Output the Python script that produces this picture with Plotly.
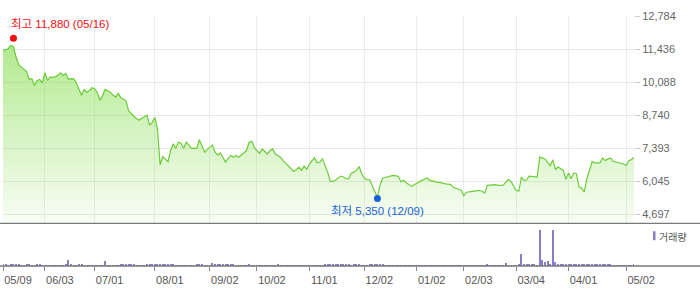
import plotly.graph_objects as go
import pandas as pd

# ---- data -----------------------------------------------------------------
holidays = ["2024-05-15", "2024-06-06", "2024-08-15", "2024-09-16", "2024-09-17",
            "2024-09-18", "2024-10-01", "2024-10-03", "2024-10-09", "2024-12-25",
            "2024-12-31", "2025-01-01", "2025-01-27", "2025-01-28", "2025-01-29",
            "2025-01-30", "2025-03-03", "2025-05-01", "2025-05-05", "2025-05-06"]
dates = [d.strftime("%Y-%m-%d") for d in pd.bdate_range("2024-05-09", "2025-05-09")
         if d.strftime("%Y-%m-%d") not in holidays]

close = [
    11380, 11400, 11450, 11580, 11540, 11100, 10800, 10700, 10630, 10530,
    10200, 10240, 9950, 10150, 10200, 10060, 10470, 10160, 10300, 10280,
    10300, 10380, 10470, 10360, 10440, 10200, 10230, 10220, 10060, 9800,
    9550, 9790, 9680, 9750, 9860, 9820, 9680, 9350, 9520, 9790,
    9720, 9680, 9560, 9480, 9630, 9455, 9400, 9320, 8910, 8800,
    8700, 8600, 8540, 8620, 8680, 8740, 8340, 8450, 8650, 8170,
    6720, 7050, 6960, 6850, 7300, 7570, 7390, 7640, 7600, 7390,
    7640, 7500, 7390, 7400, 7390, 7740, 7500, 7230, 7350, 7450,
    7530, 7230, 7120, 7200, 7030, 6830, 6980, 7100, 7030, 7100,
    7030, 7100, 7200, 7300, 7640, 7680, 7430, 7300, 7190, 7365,
    7250, 7160, 7300, 7365, 7160, 7100, 7030, 6890, 6780, 6665,
    6550, 6450, 6520, 6625, 6490, 6665, 6530, 6750, 6880, 7000,
    6800, 6830, 6960, 6700, 6420, 6040, 6040, 6100, 6180, 6260,
    6220, 6150, 6150, 6380, 6420, 6490, 6650, 6355, 6180, 6110,
    6110, 5880, 5650, 5400, 5880, 6180, 6200, 6220, 6250, 6290,
    6270, 6250, 6020, 6085, 5990, 5900, 5840, 5910, 5980, 6040,
    6085, 6130, 6180, 6085, 6050, 6020, 6000, 5990, 5950, 5940,
    5930, 5910, 5800, 5750, 5700, 5680, 5460, 5600, 5612, 5630,
    5640, 5660, 5680, 5640, 5570, 5880, 5890, 5900, 5910, 5880,
    5880, 5890, 6000, 6130, 6040, 5850, 5680, 5640, 6220, 6085,
    6100, 6260, 6240, 6230, 6220, 7030, 6990, 6960, 6820, 6690,
    6920, 6530, 6625, 6560, 6490, 6130, 6380, 6150, 6390, 6355,
    5810, 5770, 5610, 6150, 6500, 6850, 6800, 6810, 6800, 7000,
    6890, 6950, 7000, 6865, 6840, 6820, 6800, 6750, 6690, 6890,
    6930, 7030,
]

volume_k = [
    150, 120, 60, 160, 90, 70, 140, 50, 60, 130,
    120, 40, 50, 130, 110, 40, 30, 40, 30, 50,
    40, 30, 40, 60, 80, 620, 120, 40, 50, 130,
    110, 40, 30, 40, 30, 40, 30, 50, 60, 420,
    40, 30, 50, 40, 60, 110, 130, 120, 140, 120,
    110, 40, 30, 50, 40, 120, 140, 130, 150, 140,
    160, 140, 120, 130, 140, 110, 50, 40, 30, 40,
    30, 40, 30, 50, 110, 120, 100, 40, 30, 60,
    220, 110, 100, 90, 110, 100, 90, 100, 80, 50,
    40, 30, 40, 60, 180, 60, 40, 30, 40, 30,
    40, 30, 50, 40, 30, 90, 40, 30, 40, 30,
    40, 30, 50, 40, 30, 40, 30, 40, 30, 40,
    50, 30, 60, 80, 100, 90, 80, 100, 110, 90,
    100, 80, 90, 60, 70, 80, 180, 60, 50, 60,
    80, 90, 100, 110, 90, 70, 60, 50, 40, 30,
    40, 30, 40, 30, 40, 30, 40, 30, 40, 30,
    40, 30, 40, 30, 40, 30, 40, 30, 40, 30,
    40, 30, 40, 30, 40, 50, 60, 40, 30, 40,
    30, 40, 30, 40, 50, 110, 40, 30, 40, 30,
    40, 50, 260, 60, 40, 50, 60, 80, 1130, 90,
    100, 110, 90, 80, 60, 3600, 570, 330, 430, 150,
    3600, 330, 120, 110, 120, 130, 110, 120, 130, 100,
    120, 130, 140, 110, 120, 130, 100, 110, 100, 120,
    90, 100, 110, 40, 50, 40, 30, 40, 50, 40,
    30, 100,
]

tick_dates = ["2024-05-09", "2024-06-03", "2024-07-01", "2024-08-01", "2024-09-02",
              "2024-10-02", "2024-11-01", "2024-12-02", "2025-01-02", "2025-02-03",
              "2025-03-04", "2025-04-01", "2025-05-02"]
tick_text = ["05/09", "06/03", "07/01", "08/01", "09/02", "10/02", "11/01",
             "12/02", "01/02", "02/03", "03/04", "04/01", "05/02"]
price_ticks = [4697, 6045, 7393, 8740, 10088, 11436, 12784]
price_tick_text = ["4,697", "6,045", "7,393", "8,740", "10,088", "11,436", "12,784"]

high_date, high_val = "2024-05-16", 11880
low_date, low_val = "2024-12-09", 5350

assert len(dates) == len(close) == len(volume_k)

# ---- figure ---------------------------------------------------------------
W, H = 700, 289
ML, MR, MT, MB = 3, 66, 16, 21
PW, PH = W - ML - MR, H - MT - MB
split = (268 - 225) / PH
y_min, y_max = 4333, 12784

fig = go.Figure()
fig.add_trace(go.Scatter(
    x=dates, y=close, mode="lines", xaxis="x", yaxis="y",
    line=dict(color="#6ccc38", width=1.2),
    fill="tozeroy",
    fillgradient=dict(type="vertical", start=y_min, stop=11600,
                      colorscale=[[0, "rgba(135,222,80,0.05)"],
                                  [1, "rgba(135,222,80,0.64)"]]),
    hoverinfo="skip", showlegend=False))
fig.add_trace(go.Scatter(
    x=[high_date], y=[high_val], mode="markers", xaxis="x", yaxis="y",
    marker=dict(color="#f01010", size=7), showlegend=False, hoverinfo="skip"))
fig.add_trace(go.Scatter(
    x=[low_date], y=[low_val], mode="markers", xaxis="x", yaxis="y",
    marker=dict(color="#1a62d8", size=7), showlegend=False, hoverinfo="skip"))
fig.add_trace(go.Bar(
    x=dates, y=volume_k, xaxis="x2", yaxis="y2", width=0.4,
    marker=dict(color="#8a7cc6", line=dict(width=0)),
    showlegend=False, hoverinfo="skip"))

ann_font = "Liberation Sans, Noto Sans CJK KR"
fig.add_annotation(x=high_date, y=high_val, xref="x", yref="y",
                   text="최고 11,880 (05/16)", showarrow=False,
                   xanchor="left", yanchor="middle", xshift=-4, yshift=14,
                   font=dict(family=ann_font, size=11.5, color="#f01010"))
fig.add_annotation(x=low_date, y=low_val, xref="x", yref="y",
                   text="최저 5,350 (12/09)", showarrow=False,
                   xanchor="center", yanchor="middle", yshift=-13,
                   font=dict(family=ann_font, size=11.5, color="#1a62d8"))

# legend for volume
fig.add_shape(type="rect", xref="paper", yref="paper",
              x0=(653 - ML) / PW, x1=(655.5 - ML) / PW,
              y0=(268 - 242) / PH, y1=(268 - 233) / PH,
              fillcolor="#8a7cc6", line=dict(width=0))
fig.add_annotation(xref="paper", yref="paper", x=(657 - ML) / PW, y=(268 - 238) / PH,
                   text="거래량", showarrow=False, xanchor="left", yanchor="middle",
                   font=dict(family="Noto Sans CJK KR", size=10, color="#555555"))

# separator lines across the full width
for yy in (split, 0):
    fig.add_shape(type="line", xref="paper", yref="paper",
                  x0=-ML / PW, x1=(W - ML) / PW, y0=yy, y1=yy,
                  line=dict(color="#7a7a7a", width=1.3))

n = len(dates)
fig.update_layout(
    width=W, height=H, margin=dict(l=ML, r=MR, t=MT, b=MB),
    paper_bgcolor="white", plot_bgcolor="white",
    bargap=0,
    xaxis=dict(domain=[0, 1], anchor="y", type="category", range=[0, n - 1],
               tickvals=tick_dates, showticklabels=False, ticks="",
               showgrid=True, gridcolor="#ececec", gridwidth=1,
               zeroline=False, showline=False, fixedrange=True),
    xaxis2=dict(domain=[0, 1], anchor="y2", type="category", matches="x",
                range=[0, n - 1], tickvals=tick_dates, ticktext=tick_text,
                ticks="outside", ticklen=4, tickcolor="#888888", tickwidth=1,
                ticklabelshift=15,
                tickfont=dict(family="Liberation Sans", size=11, color="#555555"),
                showgrid=False, zeroline=False, showline=False),
    yaxis=dict(domain=[split, 1], anchor="x", side="right", range=[y_min, y_max],
               tickvals=price_ticks, ticktext=price_tick_text,
               ticks="outside", ticklen=5, tickcolor="#cccccc",
               showgrid=True, gridcolor="#e8e8e8", gridwidth=1,
               tickfont=dict(family="Liberation Sans", size=11, color="#666666"),
               zeroline=False, showline=False),
    yaxis2=dict(domain=[0, split], anchor="x2", range=[0, 4300],
                showticklabels=False, showgrid=False, zeroline=False,
                showline=False, ticks=""),
)

fig.write_html("out.html")
